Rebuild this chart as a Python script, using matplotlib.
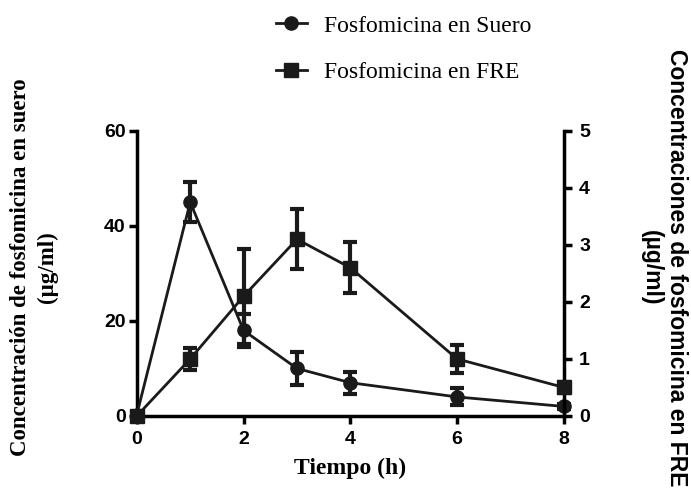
import numpy as np
import matplotlib.pyplot as plt
from matplotlib.lines import Line2D

tiempo = [0, 1, 2, 3, 4, 6, 8]
suero = [0.3, 45, 18, 10, 7, 4, 2]
suero_err = [0.3, 4.2, 3.5, 3.5, 2.3, 1.8, 0.6]
fre = [0.0, 1.0, 2.1, 3.1, 2.6, 1.0, 0.5]
fre_err = [0.05, 0.2, 0.83, 0.53, 0.45, 0.25, 0.1]

plt.rcParams['font.family'] = ['Liberation Sans', 'DejaVu Sans']

fig = plt.figure(figsize=(6.91, 4.94), dpi=100)
ax = fig.add_axes([0.198, 0.158, 0.618, 0.577])
ax2 = ax.twinx()

col = '#1a1a1a'
lw = 2.0
ax.errorbar(tiempo, suero, yerr=suero_err, color=col, marker='o', markersize=9.5,
            lw=lw, elinewidth=3, capsize=5, capthick=3, clip_on=False, zorder=3)
ax2.errorbar(tiempo, fre, yerr=fre_err, color=col, marker='s', markersize=9.5,
             lw=lw, elinewidth=3, capsize=5, capthick=3, clip_on=False, zorder=3)

ax.set_xlim(0, 8)
ax.set_ylim(0, 60)
ax2.set_ylim(0, 5)
ax.set_xticks([0, 2, 4, 6, 8])
ax.set_yticks([0, 20, 40, 60])
ax2.set_yticks([0, 1, 2, 3, 4, 5])

for a in (ax, ax2):
    a.spines['top'].set_visible(False)
    for s in a.spines.values():
        s.set_linewidth(2.5)
    a.tick_params(width=2.5, length=6, labelsize=14, direction='out')
    for lab in a.get_xticklabels() + a.get_yticklabels():
        lab.set_fontweight('bold')
ax.tick_params(axis='y', pad=2)
ax.tick_params(axis='x', pad=5)
ax2.tick_params(axis='y', pad=5)
ax.spines['right'].set_visible(False)
ax2.spines['left'].set_visible(False)
ax2.spines['bottom'].set_visible(False)

ax.set_xlabel('Tiempo (h)', family='Liberation Serif', fontweight='bold', fontsize=17, labelpad=7)

# axis titles placed in figure pixels
W, H = 691, 494
fig.text(34 / W, 1 - 267 / H, 'Concentración de fosfomicina en suero\n(µg/ml)',
         family='Liberation Serif', fontweight='bold', fontsize=16.5, rotation=90,
         ha='center', va='center', linespacing=1.3)
fig.text(664 / W, 1 - 268 / H, 'Concentraciones de fosfomicina en FRE\n(µg/ml)',
         fontweight='bold', fontsize=16.5, rotation=-90,
         ha='center', va='center', linespacing=1.15)

handles = [Line2D([], [], color=col, lw=lw, marker='o', markersize=9.5),
           Line2D([], [], color=col, lw=lw, marker='s', markersize=9.5)]
fig.legend(handles, ['Fosfomicina en Suero', 'Fosfomicina en FRE'],
           loc='upper left', bbox_to_anchor=(276 / W, 1 - 15 / H), frameon=False,
           prop={'family': 'Liberation Serif', 'size': 17}, handlelength=1.3,
           labelspacing=1.05, handletextpad=0.75, borderpad=0, borderaxespad=0)

fig.savefig('out.png', dpi=100)
